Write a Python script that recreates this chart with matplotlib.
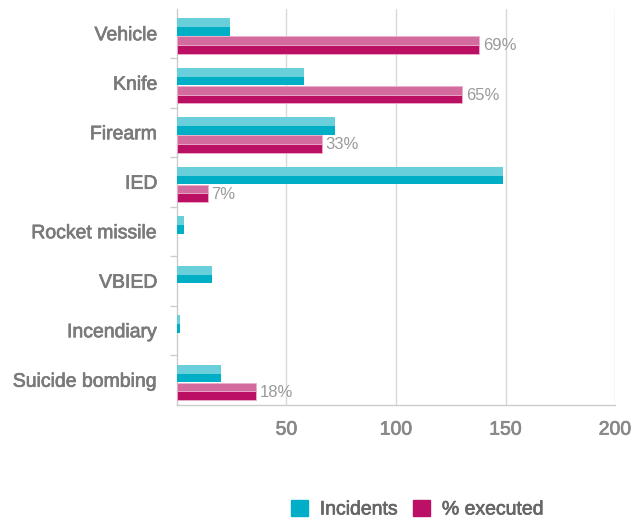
import numpy as np
import matplotlib.pyplot as plt
import matplotlib.patheffects as pe
from matplotlib.patches import Patch

plt.rcParams["font.family"] = ["Liberation Sans", "DejaVu Sans"]

# data
categories = ["Vehicle", "Knife", "Firearm", "IED", "Rocket missile",
              "VBIED", "Incendiary", "Suicide bombing"]
incidents = [24, 58, 72, 149, 3, 16, 1.3, 20]
pct_executed = [69, 65, 33, 7, 0, 0, 0, 18]   # bars drawn at 2x so 100% = 200
pct_labels = ["69%", "65%", "33%", "7%", "", "", "", "18%"]
xticks = [50, 100, 150, 200]

teal_light, teal_dark = "#68cfdb", "#00afc6"
mag_light, mag_dark = "#d46b9e", "#bb0f63"

fig = plt.figure(figsize=(6.44, 5.2), dpi=100)
ax = fig.add_axes([0.2748, 0.2212, 0.6802, 0.7615])

y = np.arange(len(categories))
h = 0.355
c_inc = y - 0.1325
c_pct = y + 0.2275
pct_vals = np.array(pct_executed) * 2

# each bar: lighter top half, darker bottom half
ax.barh(c_inc - h / 4, incidents, height=h / 2, color=teal_light, zorder=3)
ax.barh(c_inc + h / 4, incidents, height=h / 2, color=teal_dark, zorder=3)
mask = pct_vals > 0
ax.barh(c_pct[mask] - h / 4, pct_vals[mask], height=h / 2, color=mag_light,
        edgecolor="#eab0cb", linewidth=0.6, zorder=3)
ax.barh(c_pct[mask] + h / 4, pct_vals[mask], height=h / 2, color=mag_dark,
        edgecolor="#eab0cb", linewidth=0.6, zorder=3)

for yy, v, lab in zip(c_pct, pct_vals, pct_labels):
    if lab:
        ax.text(v + 1.8, yy + 0.02, lab, va="center", ha="left",
                fontsize=12, color="#9a9a9a", zorder=4)

ax.set_xlim(0, 200)
ax.set_ylim(len(categories) - 0.5, -0.5)
ax.set_xticks(xticks)
ax.set_xticklabels([str(t) for t in xticks])
ax.set_yticks(y)
ax.set_yticklabels(categories)
ax.set_yticks(np.arange(0.5, len(categories) - 1, 1), minor=True)

ax.tick_params(axis="y", which="major", length=0, pad=14, labelsize=14,
               labelcolor="#7a7a7a")
ax.tick_params(axis="y", which="minor", length=5, width=1, color="#cccccc")
ax.tick_params(axis="x", length=0, pad=12, labelsize=14, labelcolor="#888888")

# slightly heavier strokes to mimic the medium-weight face
for lab in ax.get_yticklabels():
    lab.set_path_effects([pe.withStroke(linewidth=0.5, foreground="#7a7a7a")])
for lab in ax.get_xticklabels():
    lab.set_path_effects([pe.withStroke(linewidth=0.5, foreground="#888888")])

ax.grid(axis="x", color="#d9d9d9", linewidth=1, zorder=0)
for side in ["top", "right"]:
    ax.spines[side].set_visible(False)
for side in ["left", "bottom"]:
    ax.spines[side].set_color("#cccccc")
    ax.spines[side].set_linewidth(1)

handles = [Patch(color="#00aec7", label="Incidents"),
           Patch(color="#bb1066", label="% executed")]
leg = fig.legend(handles=handles, loc="center", bbox_to_anchor=(0.648, 0.021),
                 ncol=2, frameon=False, fontsize=14, handlelength=0.9,
                 handleheight=0.9, handletextpad=0.6, columnspacing=0.75)
for t in leg.get_texts():
    t.set_color("#666666")
    t.set_path_effects([pe.withStroke(linewidth=0.5, foreground="#666666")])

fig.savefig("out.png", dpi=100)
